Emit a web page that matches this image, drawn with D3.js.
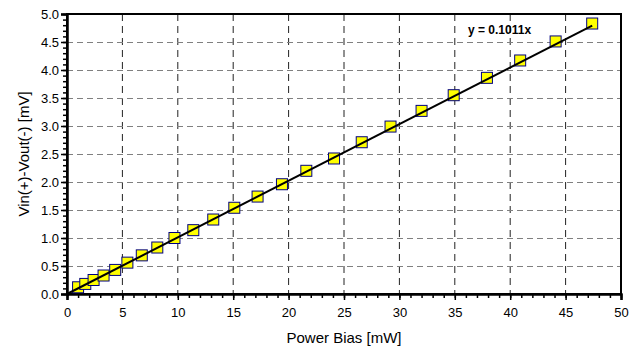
<!DOCTYPE html>
<html>
<head>
<meta charset="utf-8">
<script src="https://cdn.jsdelivr.net/npm/d3@7"></script>
<style>
  html, body { margin: 0; padding: 0; background: #fff; }
  svg { display: block; font-family: "Liberation Sans", Arial, sans-serif; }
</style>
</head>
<body>
<svg id="chart" width="636" height="349"></svg>
<script>
// Measured power bias [mW] and the differential voltage Vin(+)-Vout(-) [mV]
const powerBias = [1.0, 1.65, 2.4, 3.3, 4.35, 5.45, 6.75, 8.15, 9.7, 11.4, 13.2, 15.1,
                   17.2, 19.4, 21.6, 24.1, 26.6, 29.2, 32.0, 34.9, 37.9, 40.9, 44.1, 47.4];
const voltage   = [0.12, 0.18, 0.25, 0.33, 0.43, 0.56, 0.69, 0.83, 1.00, 1.14, 1.33, 1.54,
                   1.74, 1.96, 2.20, 2.42, 2.71, 2.99, 3.27, 3.55, 3.86, 4.17, 4.51, 4.83];
const slope = 0.1011;            // linear fit through the origin
const xTicks = [0, 5, 10, 15, 20, 25, 30, 35, 40, 45, 50];
const yTicks = [0, 0.5, 1.0, 1.5, 2.0, 2.5, 3.0, 3.5, 4.0, 4.5, 5.0];
const xTitle = "Power Bias [mW]";
const yTitle = "Vin(+)-Vout(-) [mV]";
const fitLabel = "y = 0.1011x";

const FONT = "'Liberation Sans', Arial, sans-serif";
const svg = d3.select("#chart");
const plot = { left: 67, right: 621, top: 14, bottom: 294 };

const x = d3.scaleLinear().domain([0, 50]).range([plot.left, plot.right]);
const y = d3.scaleLinear().domain([0, 5]).range([plot.bottom, plot.top]);

// Grid lines
const grid = svg.append("g");
grid.selectAll("line.v").data(xTicks.slice(1, -1)).join("line")
  .attr("x1", d => x(d)).attr("x2", d => x(d))
  .attr("y1", plot.top).attr("y2", plot.bottom)
  .attr("stroke", "#222").attr("stroke-width", 1).attr("stroke-dasharray", "7,5");
grid.selectAll("line.h").data(yTicks.slice(1, -1)).join("line")
  .attr("x1", plot.left).attr("x2", plot.right)
  .attr("y1", d => Math.round(y(d)) + 0.5).attr("y2", d => Math.round(y(d)) + 0.5)
  .attr("stroke", "#808080").attr("stroke-width", 1).attr("stroke-dasharray", "6,4");

// Frame
svg.append("rect")
  .attr("x", plot.left).attr("y", plot.top)
  .attr("width", plot.right - plot.left).attr("height", plot.bottom - plot.top)
  .attr("fill", "none").attr("stroke", "#000").attr("stroke-width", 2);

// Minor ticks
const xMinor = d3.range(0, 51, 1);
const yMinor = d3.range(0, 51, 1).map(d => d / 10);
svg.append("g").attr("transform", `translate(0,${plot.bottom})`)
  .call(d3.axisBottom(x).tickValues(xMinor).tickSize(4).tickFormat(""))
  .call(g => g.select(".domain").remove())
  .call(g => g.selectAll("line").attr("stroke-width", 1.5));
svg.append("g").attr("transform", `translate(${plot.left},0)`)
  .call(d3.axisLeft(y).tickValues(yMinor).tickSize(4).tickFormat(""))
  .call(g => g.select(".domain").remove())
  .call(g => g.selectAll("line").attr("stroke-width", 1.5));

// Major axes
const xAxis = svg.append("g").attr("transform", `translate(0,${plot.bottom})`)
  .call(d3.axisBottom(x).tickValues(xTicks).tickSize(6).tickPadding(8).tickFormat(d3.format("d")));
xAxis.select(".domain").attr("stroke-width", 2.5);
xAxis.selectAll("line").attr("stroke-width", 1.5);
xAxis.selectAll("text").attr("font-size", 13).attr("fill", "#000").attr("font-family", FONT);

const yAxis = svg.append("g").attr("transform", `translate(${plot.left},0)`)
  .call(d3.axisLeft(y).tickValues(yTicks).tickSize(6).tickPadding(2).tickFormat(d3.format(".1f")));
yAxis.select(".domain").attr("stroke-width", 2.5);
yAxis.selectAll("line").attr("stroke-width", 1.5);
yAxis.selectAll("text").attr("font-size", 13).attr("fill", "#000").attr("font-family", FONT);

// Data markers
const pts = powerBias.map((p, i) => ({ p, v: voltage[i] }));
const s = 11;
svg.append("g").selectAll("rect").data(pts).join("rect")
  .attr("x", d => x(d.p) - s / 2).attr("y", d => y(d.v) - s / 2)
  .attr("width", s).attr("height", s)
  .attr("fill", "#ffff00").attr("stroke", "#000080").attr("stroke-width", 1);

// Fit line through origin
const xMax = d3.max(powerBias);
svg.append("path")
  .datum([0, xMax])
  .attr("d", d3.line().x(d => x(d)).y(d => y(slope * d)))
  .attr("stroke", "#000").attr("stroke-width", 2).attr("fill", "none");

// Equation label
svg.append("text").attr("x", 468).attr("y", 34).attr("font-family", FONT)
  .attr("font-size", 12).attr("font-weight", "bold").text(fitLabel);

// Axis titles
svg.append("text").attr("x", (plot.left + plot.right) / 2).attr("y", 343)
  .attr("text-anchor", "middle").attr("font-family", FONT).attr("font-size", 15).text(xTitle);
svg.append("text")
  .attr("transform", `translate(29,${(plot.top + plot.bottom) / 2}) rotate(-90)`)
  .attr("text-anchor", "middle").attr("font-family", FONT).attr("font-size", 15).text(yTitle);
</script>
</body>
</html>
